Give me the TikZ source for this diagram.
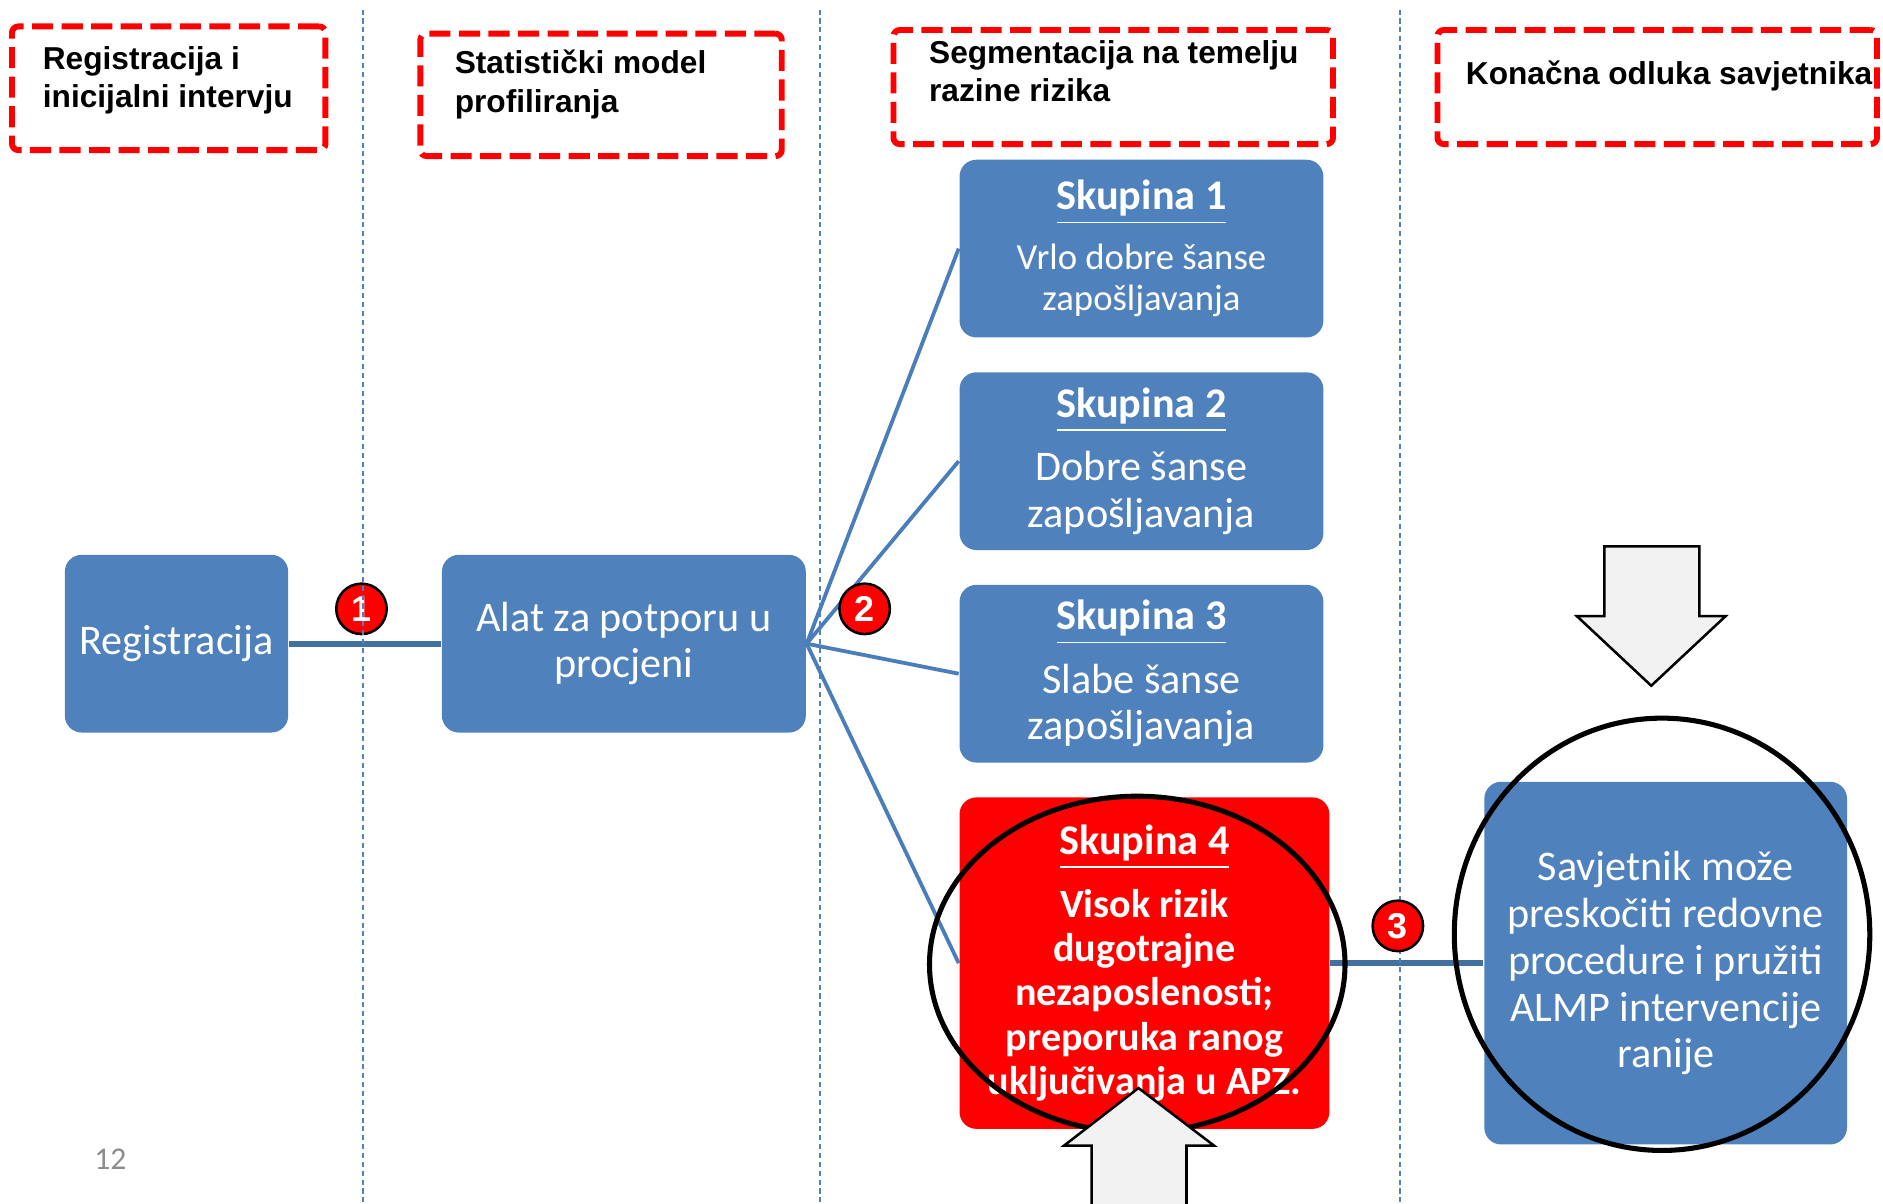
\documentclass[tikz,border=0pt]{standalone}
\usepackage{fontspec}
\setmainfont{Carlito}
\newfontfamily\arialfont{Liberation Sans}
\definecolor{boxblue}{HTML}{4F81BD}
\definecolor{lineblue}{HTML}{41719C}
\definecolor{fanblue}{HTML}{4A7EBB}
\definecolor{arrowgray}{HTML}{F2F2F2}
\definecolor{pagegray}{HTML}{8C8C8C}
\tikzset{
  box/.style={rectangle, rounded corners=4pt, fill=boxblue, text=white, align=center, inner sep=0pt},
  hdr/.style={rectangle, draw=red, line width=1.4pt, dash pattern=on 5pt off 2pt, rounded corners=1.5pt, inner sep=0pt},
  hdrtext/.style={anchor=north west, align=left, inner sep=0pt, font=\arialfont\bfseries\fontsize{7.5}{9.1}\selectfont},
  num/.style={circle, draw=black, line width=0.6pt, fill=red, text=white, minimum size=0.42cm, inner sep=0pt, font=\arialfont\bfseries\fontsize{8.5}{10}\selectfont},
  lane/.style={boxblue, line width=0.4pt, dash pattern=on 1.2pt off 0.9pt},
  ring/.style={draw=black, line width=1.2pt},
  bigarrow/.style={fill=arrowgray, draw=black, line width=0.6pt}
}
\newcommand{\skup}[1]{{\fontsize{10}{12}\selectfont\bfseries\underline{Skupina #1}}}
\begin{document}
\begin{tikzpicture}
\useasboundingbox (0,0) rectangle (15.68,-10.02);

% headers
\node[hdr, minimum width=2.61cm, minimum height=1.03cm] (h1) at (1.405,-0.735) {};
\node[hdr, minimum width=3.01cm, minimum height=1.02cm] (h2) at (5.005,-0.79) {};
\node[hdr, minimum width=3.66cm, minimum height=0.95cm] (h3) at (9.27,-0.725) {};
\node[hdr, minimum width=3.66cm, minimum height=0.95cm] (h4) at (13.80,-0.725) {};
\node[hdrtext] (t1) at (0.35,-0.38) {Registracija i\\inicijalni intervju};
\node[hdrtext] (t2) at (3.78,-0.41) {Statistički model\\profiliranja};
\node[hdrtext] (t3) at (7.73,-0.33) {Segmentacija na temelju\\razine rizika};
\node[hdrtext] (t4) at (12.20,-0.50) {Konačna odluka savjetnika};

% boxes
\node[box, minimum width=1.86cm, minimum height=1.48cm, font=\fontsize{10}{11}\selectfont] (reg) at (1.47,-5.36) {Registracija};
\node[box, minimum width=3.03cm, minimum height=1.48cm, font=\fontsize{10}{10.8}\selectfont] (alat) at (5.195,-5.36) {Alat za potporu u\\procjeni};
\node[box, minimum width=3.03cm, minimum height=1.48cm, font=\fontsize{8.7}{9.7}\selectfont] (s1) at (9.505,-2.07) {\skup{1}\\[4.5pt]Vrlo dobre šanse\\zapošljavanja};
\node[box, minimum width=3.03cm, minimum height=1.48cm, font=\fontsize{10}{11.1}\selectfont] (s2) at (9.505,-3.84) {\skup{2}\\[3.9pt]Dobre šanse\\zapošljavanja};
\node[box, minimum width=3.03cm, minimum height=1.48cm, font=\fontsize{10}{11.1}\selectfont] (s3) at (9.505,-5.61) {\skup{3}\\[3.9pt]Slabe šanse\\zapošljavanja};
\node[box, fill=red, minimum width=3.08cm, minimum height=2.76cm, font=\bfseries\fontsize{9.5}{10.5}\selectfont] (s4) at (9.53,-8.02) {\skup{4}\\[4.3pt]Visok rizik\\dugotrajne\\nezaposlenosti;\\preporuka ranog\\uključivanja u APZ.};
\node[box, minimum width=3.02cm, minimum height=3.02cm, font=\fontsize{10}{11.1}\selectfont] (sav) at (13.87,-8.02) {Savjetnik može\\preskočiti redovne\\procedure i pružiti\\ALMP intervencije\\ranije};

% connectors
\draw[lineblue, line width=1.4pt] (reg) -- (alat);
\foreach \s in {s1,s2,s3,s4}
  \draw[fanblue, line width=0.9pt] (alat.east) -- (\s.west);
\draw[lineblue, line width=1.4pt] (s4) -- (sav);

\node[num] (n1) at (3.01,-5.07) {1};
\node[num] (n2) at (7.20,-5.07) {2};

% lanes
\foreach \x in {3.02,6.83,11.66}
  \draw[lane] (\x,-0.08) -- (\x,-10.02);

\node[num] (n3) at (11.64,-7.71) {3};

% rings
\draw[ring] (9.47,-8.03) ellipse (1.73 and 1.40);
\draw[ring] (13.84,-7.78) ellipse (1.73 and 1.80);

% block arrows
\draw[bigarrow] (13.36,-4.55) -- (14.15,-4.55) -- (14.15,-5.13) -- (14.37,-5.13) -- (13.75,-5.71)
  -- (13.13,-5.13) -- (13.36,-5.13) -- cycle;
\draw[bigarrow] (9.09,-10.2) -- (9.09,-9.54) -- (8.86,-9.54) -- (9.48,-9.06) -- (10.11,-9.54)
  -- (9.88,-9.54) -- (9.88,-10.2) -- cycle;

\node[text=pagegray, font=\fontsize{7.5}{9}\selectfont] (pg) at (0.92,-9.65) {12};
\end{tikzpicture}
\end{document}
